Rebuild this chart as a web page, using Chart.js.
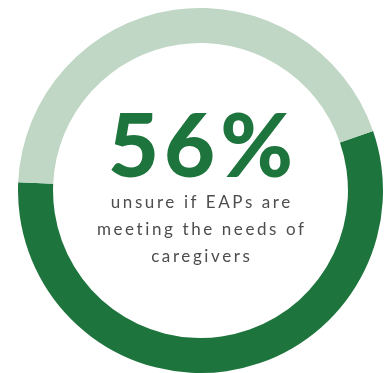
<!DOCTYPE html>
<html>
<head>
<meta charset="utf-8">
<script src="https://cdn.jsdelivr.net/npm/chart.js@4/dist/chart.umd.min.js"></script>
<style>
  html, body { margin: 0; padding: 0; background: #ffffff; }
  body { width: 385px; height: 373px; position: relative; overflow: hidden; }
  #wrap { position: absolute; left: 18px; top: 8px; width: 365px; height: 365px; }
  .big {
    position: absolute; left: 0; width: 401px; top: 99px;
    text-align: center; font-family: Lato, sans-serif; font-weight: 900;
    font-size: 88px; line-height: 88px; color: #1e743d;
    letter-spacing: 5px; box-sizing: border-box; padding-left: 5px;
  }
  .sub {
    position: absolute; left: 0; width: 401px; top: 188px;
    text-align: center; font-family: Lato, sans-serif; font-weight: 400;
    font-size: 17px; line-height: 27px; color: #4d4d4d;
    letter-spacing: 2.6px; box-sizing: border-box; padding-left: 2.6px;
  }
</style>
</head>
<body>
<div id="wrap"><canvas id="c"></canvas></div>
<div class="big" id="big"></div>
<div class="sub" id="sub"></div>
<script>
// Share of respondents: unsure vs. the rest
const categories = ['Unsure', 'Other'];
const values = [56, 44];
const colors = ['#1e743d', '#bfd7c4'];
const captionLines = ['unsure if EAPs are', 'meeting the needs of', 'caregivers'];

document.getElementById('big').textContent = values[0] + '%';
document.getElementById('sub').innerHTML = captionLines.join('<br>');

new Chart(document.getElementById('c'), {
  type: 'doughnut',
  data: {
    labels: categories,
    datasets: [{
      data: values,
      backgroundColor: colors,
      borderWidth: 0,
      hoverOffset: 0
    }]
  },
  options: {
    responsive: true,
    maintainAspectRatio: false,
    animation: false,
    rotation: 71,
    cutout: '80.8%',
    layout: { padding: 0 },
    plugins: { legend: { display: false }, tooltip: { enabled: false } }
  }
});
</script>
</body>
</html>
